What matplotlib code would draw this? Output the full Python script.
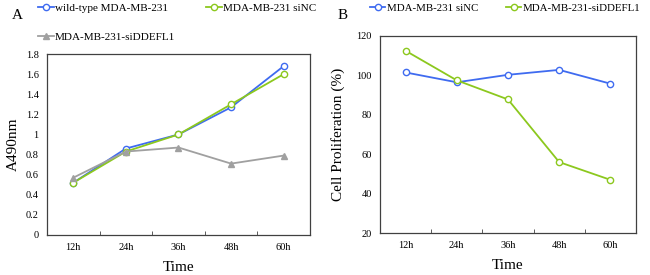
import matplotlib
matplotlib.use("Agg")
import matplotlib.pyplot as plt

plt.rcParams['font.family'] = ['Liberation Serif', 'DejaVu Serif']

times = ["12h", "24h", "36h", "48h", "60h"]

# Panel A: A490nm
a_wildtype = [0.52, 0.86, 1.00, 1.27, 1.68]
a_sinc = [0.52, 0.83, 1.00, 1.30, 1.60]
a_siddefl1 = [0.57, 0.83, 0.87, 0.71, 0.79]

# Panel B: Cell proliferation (%)
b_sinc = [101.5, 96.5, 100.3, 102.8, 95.8]
b_siddefl1 = [112.5, 97.5, 87.8, 56.0, 47.0]

blue = '#3F6BF0'
green = '#8CC81E'
gray = '#A0A0A0'
axcol = '#404040'

fig = plt.figure(figsize=(6.5, 2.75), dpi=100)

def style_ax(ax):
    for s in ax.spines.values():
        s.set_color(axcol)
        s.set_linewidth(0.9)
    x = list(range(len(times)))
    ax.set_xlim(-0.5, len(times) - 0.5)
    ax.set_xticks(x)
    ax.set_xticklabels(times, fontsize=7.5)
    ax.set_xticks([i + 0.5 for i in x[:-1]], minor=True)
    ax.tick_params(axis='x', which='major', length=0, pad=6)
    ax.tick_params(axis='x', which='minor', length=3, direction='in', color=axcol)
    ax.tick_params(axis='y', length=0, labelsize=7.5, pad=6)
    ax.set_xlabel("Time", fontsize=11, labelpad=6)

x = list(range(len(times)))
mk = dict(markersize=4.5, markerfacecolor='white', markeredgewidth=1.0, linewidth=1.3)

axA = fig.add_axes([0.0723, 0.1455, 0.4046, 0.658])
lw, = axA.plot(x, a_wildtype, color=blue, marker='o', **mk)
ln, = axA.plot(x, a_sinc, color=green, marker='o', **mk)
lg, = axA.plot(x, a_siddefl1, color=gray, marker='^', markersize=4.5, markerfacecolor=gray,
               markeredgecolor=gray, linewidth=1.3)
axA.set_ylim(0, 1.8)
axA.set_yticks([0, 0.2, 0.4, 0.6, 0.8, 1.0, 1.2, 1.4, 1.6, 1.8])
axA.set_yticklabels(["0", "0.2", "0.4", "0.6", "0.8", "1", "1.2", "1.4", "1.6", "1.8"])
style_ax(axA)
axA.set_ylabel("A490nm", fontsize=11, labelpad=4)
fig.legend([lw, lg, ln],
           ["wild-type MDA-MB-231", "MDA-MB-231-siDDEFL1", "MDA-MB-231 siNC"],
           loc='upper left', bbox_to_anchor=(0.052, 1.005), ncol=2, frameon=False,
           fontsize=8, handlelength=1.4, handletextpad=0.1, columnspacing=2.8,
           labelspacing=1.75, borderaxespad=0)
fig.text(0.018, 0.945, "A", fontsize=11, va='center')

axB = fig.add_axes([0.5846, 0.1527, 0.3938, 0.7164])
lb1, = axB.plot(x, b_sinc, color=blue, marker='o', **mk)
lb2, = axB.plot(x, b_siddefl1, color=green, marker='o', **mk)
axB.set_ylim(20, 120)
axB.set_yticks([20, 40, 60, 80, 100, 120])
style_ax(axB)
axB.set_ylabel("Cell Proliferation (%)", fontsize=11, labelpad=8)
fig.legend([lb1, lb2], ["MDA-MB-231 siNC", "MDA-MB-231-siDDEFL1"],
           loc='upper left', bbox_to_anchor=(0.563, 1.005), ncol=2, frameon=False,
           fontsize=7.8, handlelength=1.4, handletextpad=0.1, columnspacing=2.6,
           borderaxespad=0)
fig.text(0.52, 0.945, "B", fontsize=11, va='center')

fig.savefig("out.png", dpi=100)
